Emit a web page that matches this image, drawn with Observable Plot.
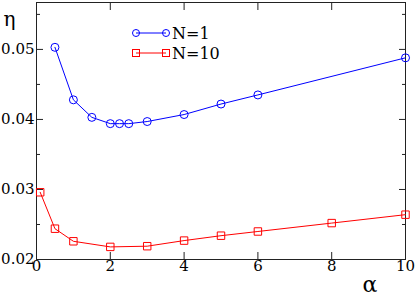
<!DOCTYPE html>
<html>
<head>
<meta charset="utf-8">
<script src="https://cdn.jsdelivr.net/npm/d3@7"></script>
<script src="https://cdn.jsdelivr.net/npm/@observablehq/plot@0.6"></script>
<style>
  html, body { margin: 0; padding: 0; background: #fff; }
  #wrap { position: relative; width: 415px; height: 296px; }
  #legend { position: absolute; left: 0; top: 0; }
</style>
</head>
<body>
<div id="wrap"></div>
<script>
const seriesNames = ["N=1", "N=10"];
const alphaN1 = [0.5, 1, 1.5, 2, 2.25, 2.5, 3, 4, 5, 6, 10];
const etaN1   = [0.0503, 0.0428, 0.0403, 0.0394, 0.0394, 0.0394, 0.0397, 0.0407, 0.0422, 0.0435, 0.0488];
const alphaN10 = [0.1, 0.5, 1, 2, 3, 4, 5, 6, 8, 10];
const etaN10   = [0.0296, 0.0244, 0.0226, 0.0218, 0.0219, 0.0227, 0.0234, 0.0240, 0.0252, 0.0264];
const xTicks = [0, 2, 4, 6, 8, 10];
const yTicks = [0.02, 0.03, 0.04, 0.05];
const yMinorTicks = [0.025, 0.035, 0.045, 0.055];

const n1 = alphaN1.map((a, i) => ({alpha: a, eta: etaN1[i]}));
const n10 = alphaN10.map((a, i) => ({alpha: a, eta: etaN10[i]}));

const blue = "#0000ff", red = "#ff0000", axisColor = "#222";
const font = "DejaVu Serif";

const chart = Plot.plot({
  width: 415,
  height: 296,
  marginLeft: 36,
  marginRight: 10,
  marginTop: 2,
  marginBottom: 37,
  style: {fontFamily: font, fontSize: "15px", color: "#000", background: "#fff", overflow: "visible"},
  x: {domain: [0, 10]},
  y: {domain: [0.02, 0.0567]},
  marks: [
    Plot.frame({stroke: axisColor}),
    Plot.axisX(xTicks, {anchor: "bottom", tickSize: -7, tickFormat: () => "", label: null, stroke: axisColor}),
    Plot.axisX(xTicks, {anchor: "top", tickSize: -7, tickFormat: () => "", label: null, stroke: axisColor}),
    Plot.axisY(yTicks, {anchor: "left", tickSize: -7, tickFormat: () => "", label: null, stroke: axisColor}),
    Plot.axisY(yTicks, {anchor: "right", tickSize: -7, tickFormat: () => "", label: null, stroke: axisColor}),
    Plot.axisY(yMinorTicks, {anchor: "left", tickSize: -4, tickFormat: () => "", label: null, stroke: axisColor}),
    Plot.axisY(yMinorTicks, {anchor: "right", tickSize: -4, tickFormat: () => "", label: null, stroke: axisColor}),
    Plot.axisX(xTicks, {anchor: "bottom", tickSize: 0, tickPadding: 1, label: null, tickFormat: d3.format("d"), fill: "#000"}),
    Plot.axisY(yTicks, {anchor: "left", tickSize: 0, tickPadding: 2, label: null, tickFormat: d3.format(".2f"), fill: "#000"}),
    Plot.line(n10, {x: "alpha", y: "eta", stroke: red, strokeWidth: 1}),
    Plot.dot(n10, {x: "alpha", y: "eta", symbol: "square", r: 4.2, stroke: red, fill: "none", strokeWidth: 1}),
    Plot.line(n1, {x: "alpha", y: "eta", stroke: blue, strokeWidth: 1}),
    Plot.dot(n1, {x: "alpha", y: "eta", symbol: "circle", r: 4, stroke: blue, fill: "none", strokeWidth: 1}),
    Plot.text(["η"], {frameAnchor: "top-left", dx: -33, dy: 23, textAnchor: "start", lineAnchor: "bottom", fill: "#000", className: "big-eta"}),
    Plot.text(["α"], {frameAnchor: "bottom-right", dx: -43, dy: 32, textAnchor: "start", lineAnchor: "bottom", fill: "#000", className: "big-alpha"})
  ]
});

const wrap = document.getElementById("wrap");
wrap.appendChild(chart);

wrap.querySelectorAll("text").forEach(t => {
  t.setAttribute("font-family", font);
  t.setAttribute("font-size", "15");
  t.setAttribute("style", "font-family: 'DejaVu Serif'; font-size: 15px;");
});
wrap.querySelectorAll(".big-eta text").forEach(t => t.setAttribute("style", "font-family: 'DejaVu Serif'; font-size: 20px;"));
wrap.querySelectorAll(".big-alpha text").forEach(t => t.setAttribute("style", "font-family: 'DejaVu Serif'; font-size: 22px;"));

const legendItems = [
  {name: seriesNames[0], color: blue, symbol: "circle"},
  {name: seriesNames[1], color: red, symbol: "square"}
];
const svg = d3.select(wrap).append("svg")
  .attr("id", "legend").attr("width", 415).attr("height", 296);
const g = svg.selectAll("g").data(legendItems).join("g")
  .attr("transform", (d, i) => `translate(136,${33 + i * 20})`);
g.append("line").attr("x1", 0).attr("x2", 30).attr("y1", 0).attr("y2", 0)
  .attr("stroke", d => d.color).attr("stroke-width", 1);
g.each(function(d) {
  const s = d3.select(this);
  for (const cx of [0, 30]) {
    if (d.symbol === "circle") {
      s.append("circle").attr("cx", cx).attr("cy", 0).attr("r", 3.5)
        .attr("fill", "none").attr("stroke", d.color);
    } else {
      s.append("rect").attr("x", cx - 3.5).attr("y", -3.5).attr("width", 7).attr("height", 7)
        .attr("fill", "none").attr("stroke", d.color);
    }
  }
});
g.append("text").attr("x", 36).attr("y", 6).attr("fill", "#000")
  .style("font-family", font).style("font-size", "16px").text(d => d.name);
</script>
</body>
</html>
